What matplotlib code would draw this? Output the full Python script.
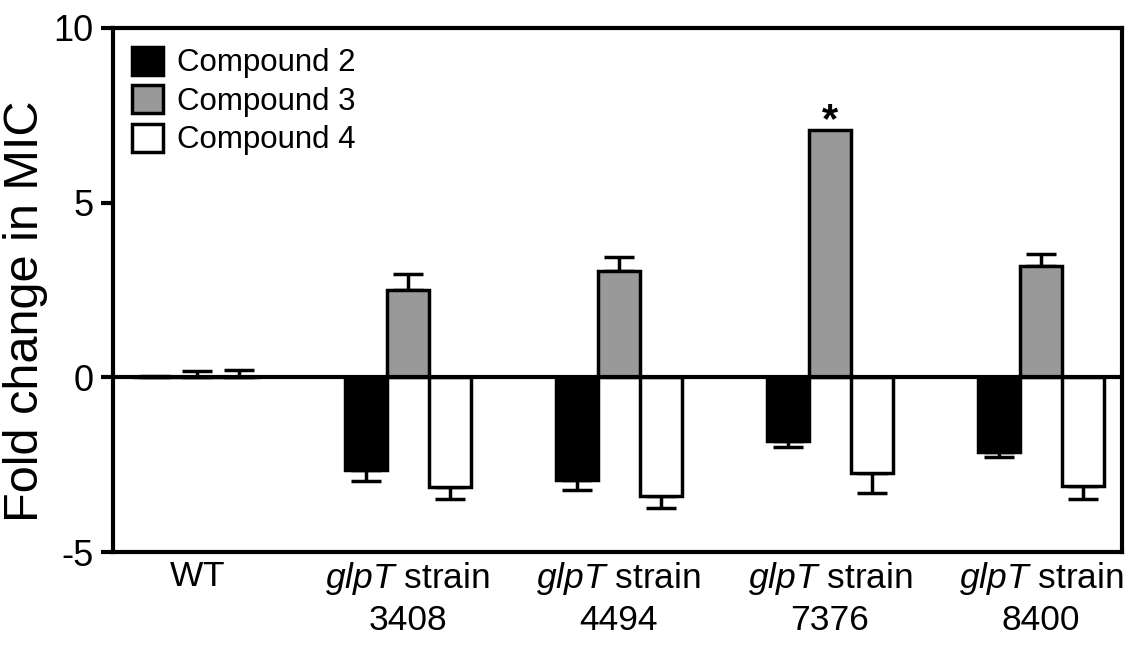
import numpy as np
import matplotlib.pyplot as plt

plt.rcParams['font.family'] = ['Liberation Sans', 'DejaVu Sans']
plt.rcParams['mathtext.fontset'] = 'custom'
plt.rcParams['mathtext.rm'] = 'Liberation Sans'
plt.rcParams['mathtext.it'] = 'Liberation Sans:italic'

strains = ["WT", "3408", "4494", "7376", "8400"]
compounds = ["Compound 2", "Compound 3", "Compound 4"]
colors = ["#000000", "#999999", "#ffffff"]

# fold change in MIC, per compound
c2 = [0.0, -2.65, -2.95, -1.82, -2.15]
c3 = [0.0, 2.49, 3.05, 7.08, 3.19]
c4 = [0.0, -3.15, -3.40, -2.75, -3.12]
c2_err = [0.05, 0.33, 0.28, 0.18, 0.13]
c3_err = [0.18, 0.48, 0.40, 0.0, 0.33]
c4_err = [0.22, 0.32, 0.35, 0.55, 0.37]

values = [c2, c3, c4]
errors = [c2_err, c3_err, c4_err]

fig = plt.figure(figsize=(11.28, 6.48), dpi=100)
ax = fig.add_axes([0.1, 0.148, 0.8947, 0.809])

x = np.arange(len(strains))
w = 0.2
for i, (vals, errs) in enumerate(zip(values, errors)):
    vals = np.array(vals)
    errs = np.array(errs)
    pos = x + (i - 1) * w
    ax.bar(pos, vals, w, color=colors[i], edgecolor="black", linewidth=2.5,
           label=compounds[i], zorder=2)
    # one-sided error bars pointing away from zero
    lower = np.where(vals < 0, errs, 0)
    upper = np.where(vals >= 0, errs, 0)
    show = errs > 0
    ax.errorbar(pos[show], vals[show], yerr=[lower[show], upper[show]], fmt="none",
                ecolor="black", elinewidth=2.5, capsize=11, capthick=2.5, zorder=1)

ax.axhline(0, color="black", linewidth=3, zorder=3)
ax.text(x[3], c3[3] - 0.32, "*", ha="center", va="bottom", fontsize=30, fontweight="bold")

ax.set_xlim(-0.398, 4.384)
ax.set_ylim(-5, 10)
ax.set_yticks([-5, 0, 5, 10])
ax.set_yticklabels(["-5", "0", "5", "10"])
ax.set_xticks(x)
xlabels = ["$\\mathrm{WT}$"] + ["$\\it{glpT}$ strain\n" + s for s in strains[1:]]
ax.set_xticklabels(xlabels, fontsize=25.5, linespacing=1.25)
ax.tick_params(axis="x", length=0, pad=6)
ax.tick_params(axis="y", labelsize=26, width=3, length=9, direction="out", pad=5)
for sp in ax.spines.values():
    sp.set_linewidth(3)
ax.set_ylabel("Fold change in MIC", fontsize=35)
ax.yaxis.set_label_coords(-0.064, 0.46)

ax.legend(loc="upper left", fontsize=22.5, frameon=False, handlelength=1.0,
          handleheight=1.0, handletextpad=0.45, labelspacing=0.22,
          borderaxespad=0.2)

fig.savefig("out.png", dpi=100)
